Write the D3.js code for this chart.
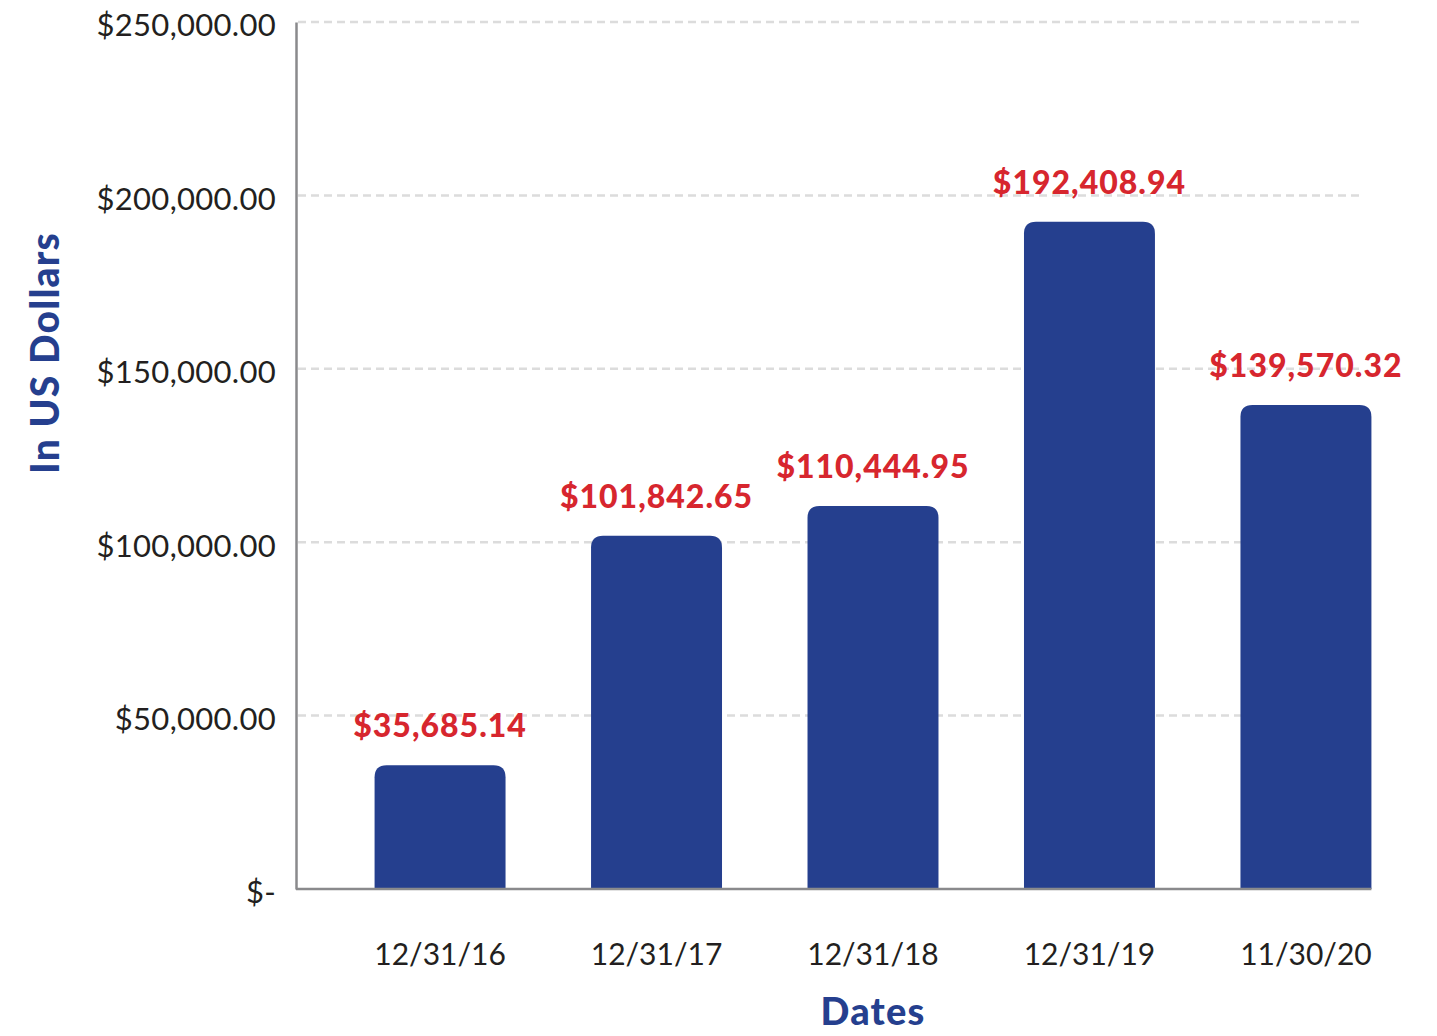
<!DOCTYPE html>
<html lang="en">
<head>
    <meta charset="utf-8">
    <script src="https://d3js.org/d3.v7.min.js"></script>
    <style>
        body { margin: 0; background: #fff; }
        svg { display: block; }
    </style>
</head>
<body>
<script>
    // chart data
    const dates = ["12/31/16", "12/31/17", "12/31/18", "12/31/19", "11/30/20"];
    const values = [35685.14, 101842.65, 110444.95, 192408.94, 139570.32];
    const yTicks = [0, 50000, 100000, 150000, 200000, 250000];

    const width = 1437, height = 1036;
    const blue = "#253f8e", red = "#d7262e";
    const font = "Lato, 'Open Sans', sans-serif";

    const svg = d3.select("body").append("svg")
        .attr("width", width)
        .attr("height", height);

    const y = d3.scaleLinear().domain([0, 250000]).range([889, 22]);
    const x = d3.scaleBand()
        .domain(dates)
        .range([296, 1450])
        .paddingInner(0.395)
        .paddingOuter(0.363);

    const fmt = d3.format("$,.2f");

    // gridlines
    svg.append("g")
        .selectAll("line")
        .data(yTicks.filter(d => d > 0))
        .join("line")
        .attr("x1", 298).attr("x2", 1360)
        .attr("y1", d => y(d)).attr("y2", d => y(d))
        .attr("stroke", "#dcdcdc")
        .attr("stroke-width", 2.5)
        .attr("stroke-dasharray", "8,5");

    // y axis
    const yAxis = d3.axisLeft(y)
        .tickValues(yTicks)
        .tickSize(0)
        .tickPadding(20)
        .tickFormat(d => d === 0 ? "$-" : fmt(d));
    const gy = svg.append("g")
        .attr("transform", "translate(296,0)")
        .call(yAxis);
    gy.select(".domain").attr("stroke", "#8a8a8c").attr("stroke-width", 2.5);
    gy.selectAll("text")
        .attr("font-family", font)
        .attr("font-size", 31)
        .attr("letter-spacing", 0.3)
        .attr("fill", "#231f20")
        .attr("dy", "0.45em");

    // bars with rounded tops
    const r = 12;
    function barPath(d, i) {
        const x0 = x(dates[i]), w = x.bandwidth();
        const top = y(d), bot = y(0);
        return `M${x0},${bot} V${top + r} Q${x0},${top} ${x0 + r},${top} H${x0 + w - r} Q${x0 + w},${top} ${x0 + w},${top + r} V${bot} Z`;
    }
    svg.append("g")
        .selectAll("path")
        .data(values)
        .join("path")
        .attr("d", barPath)
        .attr("fill", blue);

    // x axis
    const xAxis = d3.axisBottom(x).tickSize(0).tickPadding(55);
    const gx = svg.append("g")
        .attr("transform", "translate(0,889)")
        .call(xAxis);
    gx.select(".domain")
        .attr("d", `M296,0 H${x(dates[4]) + x.bandwidth()}`)
        .attr("stroke", "#8a8a8c").attr("stroke-width", 2.5);
    gx.selectAll("text")
        .attr("font-family", font)
        .attr("font-size", 30)
        .attr("fill", "#231f20");

    // value labels
    svg.append("g")
        .selectAll("text")
        .data(values)
        .join("text")
        .attr("x", (d, i) => x(dates[i]) + x.bandwidth() / 2)
        .attr("y", d => y(d) - 28)
        .attr("text-anchor", "middle")
        .attr("font-family", font)
        .attr("font-weight", 900)
        .attr("font-size", 32)
        .attr("letter-spacing", 1)
        .attr("fill", red)
        .text(d => fmt(d));

    // axis titles
    svg.append("text")
        .attr("transform", "translate(59,353) rotate(-90)")
        .attr("text-anchor", "middle")
        .attr("font-family", font)
        .attr("font-weight", 900)
        .attr("font-size", 39)
        .attr("letter-spacing", 1.2)
        .attr("fill", blue)
        .text("In US Dollars");

    svg.append("text")
        .attr("x", 873).attr("y", 1025)
        .attr("text-anchor", "middle")
        .attr("font-family", font)
        .attr("font-weight", 900)
        .attr("font-size", 38)
        .attr("letter-spacing", 1.2)
        .attr("fill", blue)
        .text("Dates");
</script>
</body>
</html>
